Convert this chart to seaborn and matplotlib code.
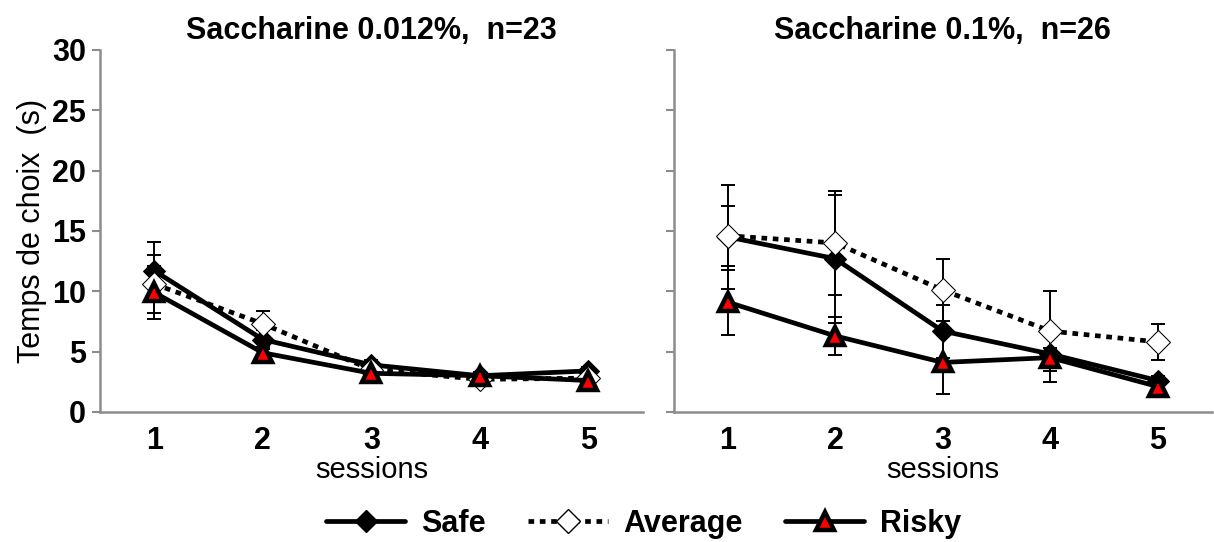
import numpy as np
import pandas as pd
import seaborn as sns
import matplotlib
matplotlib.use("Agg")
import matplotlib.pyplot as plt
from matplotlib.lines import Line2D

sessions = ["1", "2", "3", "4", "5"]
titles = ["Saccharine 0.012%,  n=23", "Saccharine 0.1%,  n=26"]
series = ["Safe", "Average", "Risky"]

# Left panel (0.012 %)
safe_low = [11.7, 6.0, 3.9, 3.0, 3.4]
avg_low = [10.6, 7.3, 3.5, 2.7, 2.8]
risky_low = [9.9, 4.9, 3.2, 3.0, 2.6]
safe_low_err = [2.4, 0.8, 0.4, 0.3, 0.3]
avg_low_err = [2.4, 1.1, 0.4, 0.3, 0.3]
risky_low_err = [2.2, 0.5, 0.3, 0.3, 0.3]

# Right panel (0.1 %)
safe_high = [14.5, 12.7, 6.7, 4.8, 2.6]
avg_high = [14.6, 14.0, 10.1, 6.7, 5.8]
risky_high = [9.1, 6.3, 4.1, 4.5, 2.1]
safe_high_err = [4.3, 5.3, 2.2, 0.5, 0.4]
avg_high_err = [2.5, 4.3, 2.6, 3.3, 1.5]
risky_high_err = [2.7, 1.6, 2.6, 2.0, 0.4]

sns.set_theme(style="white")
plt.rcParams["font.family"] = ["Liberation Sans", "DejaVu Sans"]
for k in ["text.color", "axes.labelcolor", "xtick.color", "ytick.color"]:
    plt.rcParams[k] = "black"

fig = plt.figure(figsize=(12.14, 5.42), dpi=100)
ax1 = fig.add_axes([0.0824, 0.24, 0.447, 0.668])
ax2 = fig.add_axes([0.555, 0.24, 0.443, 0.668])

styles = {
    "Safe": dict(marker="D", markersize=11, markerfacecolor="black",
                 markeredgecolor="black", linestyle="-"),
    "Average": dict(marker="D", markersize=12, markerfacecolor="white",
                    markeredgecolor="black", linestyle=(0, (1.2, 1.2))),
    "Risky": dict(marker="^", markersize=13, markerfacecolor="red",
                  markeredgecolor="black", markeredgewidth=3.2, linestyle="-"),
}

panels = [
    (ax1, [safe_low, avg_low, risky_low], [safe_low_err, avg_low_err, risky_low_err]),
    (ax2, [safe_high, avg_high, risky_high], [safe_high_err, avg_high_err, risky_high_err]),
]

gray = "#8c8c8c"
for i, (ax, vals, errs) in enumerate(panels):
    x = np.arange(len(sessions))
    for name, v, e in zip(series, vals, errs):
        ax.errorbar(x, v, yerr=e, fmt="none", ecolor="black", elinewidth=1.4,
                    capsize=5, capthick=1.4, zorder=2)
    for name, v in zip(series, vals):
        df = pd.DataFrame({"x": x, "y": v})
        st = dict(styles[name])
        sns.lineplot(data=df, x="x", y="y", ax=ax, color="black", linewidth=3.4,
                     zorder=3, dash_capstyle="butt", **st)
    ax.set_xlim(-0.5, 4.5)
    ax.set_ylim(0, 30)
    ax.set_yticks([0, 5, 10, 15, 20, 25, 30])
    ax.set_xticks(x)
    ax.set_xticklabels(sessions, fontsize=22, fontweight="bold")
    ax.set_xticks(np.arange(-0.5, 5, 1), minor=True)
    ax.tick_params(axis="x", which="major", length=0, pad=10)
    ax.tick_params(axis="x", which="minor", length=6, width=1.5, color=gray, direction="out")
    ax.tick_params(axis="y", length=6, width=1.5, color=gray, direction="out", left=True, pad=4)
    for s in ["top", "right"]:
        ax.spines[s].set_visible(False)
    for s in ["left", "bottom"]:
        ax.spines[s].set_color(gray)
        ax.spines[s].set_linewidth(1.8)
    ax.set_xlabel("sessions", fontsize=21, labelpad=0)
    ax.set_title(titles[i], fontsize=22, fontweight="bold", pad=8)
    if i == 0:
        ax.set_ylabel("Temps de choix  (s)", fontsize=22, labelpad=4)
        ax.set_yticklabels([str(t) for t in [0, 5, 10, 15, 20, 25, 30]],
                           fontsize=22, fontweight="bold")
    else:
        ax.set_ylabel("")
        ax.set_yticklabels([])
    ax.grid(False)
    leg = ax.get_legend()
    if leg is not None:
        leg.remove()

handles = []
for name in series:
    st = dict(styles[name])
    handles.append(Line2D([0], [0], color="black", linewidth=3.4, **st))
fig.legend(handles, series, loc="lower center", bbox_to_anchor=(0.53, -0.045),
           ncol=3, frameon=False, handlelength=2.6, columnspacing=1.4,
           prop={"size": 22, "weight": "bold"}, handletextpad=0.5)

fig.savefig("out.png", dpi=100)
